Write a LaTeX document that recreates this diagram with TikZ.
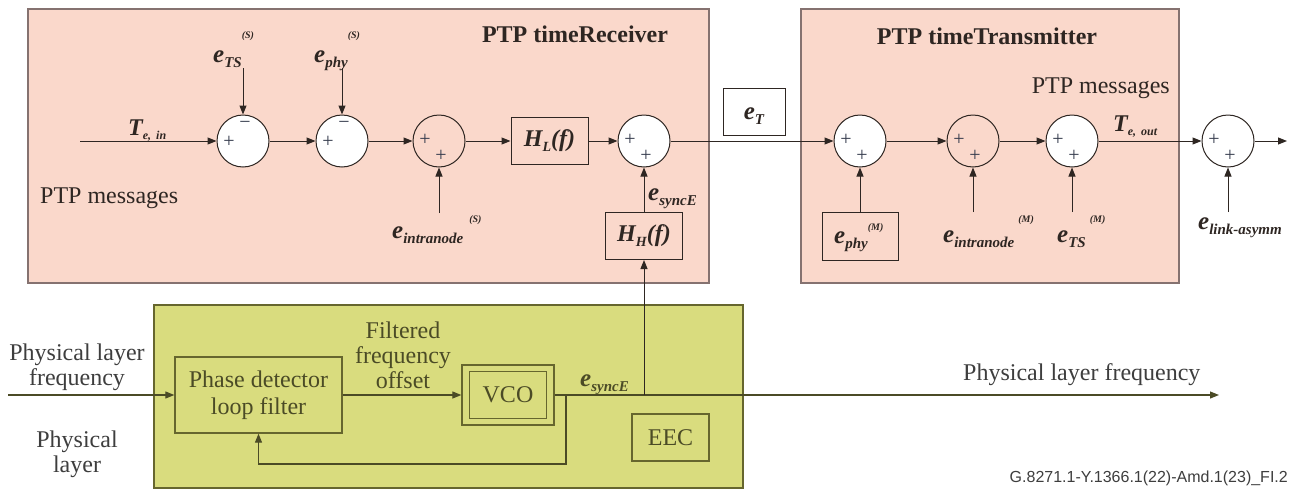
\documentclass[tikz,border=0pt]{standalone}
\usepackage{fontspec}
\setmainfont{Liberation Serif}
\newfontfamily\capfont{Liberation Sans}
\usetikzlibrary{arrows.meta}
\definecolor{pinkfill}{HTML}{FAD8CB}
\definecolor{pinkedge}{HTML}{857270}
\definecolor{greenfill}{HTML}{D9DC7E}
\definecolor{greenedge}{HTML}{66662E}
\definecolor{ink}{HTML}{2E2622}
\definecolor{oline}{HTML}{4B4B26}
\definecolor{plusc}{HTML}{343A4C}
\definecolor{graytext}{HTML}{3E3E3E}
\newcommand\bsz{\fontsize{24}{27}\selectfont}
% e label: [raise]{main}{sub}{sup}
\newcommand\elab[4][20pt]{{\fontsize{25}{25}\selectfont\bfseries\itshape #2}\raisebox{-5pt}{\fontsize{15}{15}\selectfont\bfseries\itshape #3}\raisebox{#1}{\fontsize{10}{10}\selectfont\bfseries\itshape #4}}
\newcommand\hlab[2]{{\bfseries\itshape #1}\raisebox{-5pt}{\fontsize{14}{14}\selectfont\bfseries\itshape #2}{\bfseries\itshape (f)}}
\begin{document}
\begin{tikzpicture}[x=1pt,y=-1pt,
  redbox/.style={draw=pinkedge, fill=pinkfill, line width=1.6pt, inner sep=0, anchor=north west},
  greenbox/.style={draw=greenedge, fill=greenfill, line width=1.6pt, inner sep=0, anchor=north west},
  sumc/.style={circle, draw=ink, line width=1pt, minimum size=52pt, inner sep=0},
  blk/.style={draw=ink, line width=1pt, inner sep=0, minimum width=77pt, minimum height=47pt, font=\bsz, text=ink},
  gblk/.style={draw=greenedge, line width=1.3pt, inner sep=0, font=\bsz, text=oline},
  sgn/.style={inner sep=0, text=plusc, font=\fontsize{20}{20}\selectfont},
  conn/.style={draw=ink, line width=1pt},
  arr/.style={conn, -{Triangle[length=9pt,width=7pt]}},
  garr/.style={draw=oline, line width=1.1pt, -{Triangle[length=9pt,width=7pt]}},
  lbl/.style={inner sep=0, text=ink},
  txt/.style={inner sep=0, text=graytext, font=\bsz, align=center},
]
\useasboundingbox (0,0) rectangle (1298,490);
\fill[white] (0,0) rectangle (1298,490);

% enclosing boxes
\node[redbox, minimum width=681pt, minimum height=274pt] (rx) at (27,8) {};
\node[redbox, minimum width=378pt, minimum height=274pt] (tx) at (800,8) {};
\node[greenbox, minimum width=589pt, minimum height=183pt] (eec) at (153,304) {};

% titles
\node[lbl, font=\bsz\bfseries] (trx) at (575,34) {PTP timeReceiver};
\node[lbl, font=\bsz\bfseries] (ttx) at (987,36) {PTP timeTransmitter};
\node[lbl, font=\bsz, anchor=west] (pmi) at (40,198) {PTP messages};
\node[lbl, font=\bsz, anchor=east] (pmo) at (1170,88) {PTP messages};

% summing circles
\node[sumc, fill=white] (c1) at (243,141) {};
\node[sumc, fill=white] (c2) at (342,141) {};
\node[sumc] (c3) at (439,141) {};
\node[sumc, fill=white] (c4) at (644,141) {};
\node[sumc, fill=white] (c5) at (860,141) {};
\node[sumc] (c6) at (973,141) {};
\node[sumc, fill=white] (c7) at (1072,141) {};
\node[sumc, fill=white] (c8) at (1228,141) {};

% signs
\foreach \c in {c1,c2}{
  \node[sgn] at ([shift={(-14,1)}]\c.center) {+};
  \node[sgn] at ([shift={(2,-16)}]\c.center) {\char"2212};
}
\foreach \c in {c3,c4,c5,c6,c7,c8}{
  \node[sgn] at ([shift={(-14,-1)}]\c.center) {+};
  \node[sgn] at ([shift={(2,15)}]\c.center) {+};
}

% blocks
\node[blk] (hl) at (549.5,141) {\hlab{H}{L}};
\node[blk] (hh) at (644,236) {\hlab{H}{H}};
\node[blk, fill=white, minimum width=62pt] (et) at (754,111.5) {\elab{e}{T}{}};
\node[blk, minimum width=76pt, minimum height=48pt] (ephy) at (860,236) {};
\node[lbl, anchor=base west] (ephyl) at (834,243) {\elab[13pt]{e}{phy}{(M)}};

% input / output coordinates
\coordinate (tin) at (80,141);
\coordinate (tout) at (1287,141);
\coordinate (ets) at (243,68);
\coordinate (eph) at (342,68);
\coordinate (ein) at (439,213);
\coordinate (einm) at (973,212);
\coordinate (etsm) at (1072,212);
\coordinate (elk) at (1228,212);

% top chain
\draw[arr] (tin) -- (c1);
\draw[arr] (c1) -- (c2);
\draw[arr] (c2) -- (c3);
\draw[arr] (c3) -- (hl);
\draw[arr] (hl) -- (c4);
\draw[arr] (c4) -- (c5);
\draw[arr] (c5) -- (c6);
\draw[arr] (c6) -- (c7);
\draw[arr] (c7) -- (c8);
\draw[arr] (c8) -- (tout);

% vertical inputs
\draw[arr] (ets) -- (c1);
\draw[arr] (eph) -- (c2);
\draw[arr] (ein) -- (c3);
\draw[arr] (hh) -- (c4);
\draw[arr] (ephy) -- (c5);
\draw[arr] (einm) -- (c6);
\draw[arr] (etsm) -- (c7);
\draw[arr] (elk) -- (c8);

% labels top
\node[lbl, anchor=base west] (tinl) at (128,135) {{\fontsize{24}{24}\selectfont\bfseries\itshape T}\raisebox{-4pt}{\fontsize{12}{12}\selectfont\bfseries\itshape e, \,in}};
\node[lbl, anchor=base west] (toutl) at (1113,131) {{\fontsize{24}{24}\selectfont\bfseries\itshape T}\raisebox{-4pt}{\fontsize{12}{12}\selectfont\bfseries\itshape e, \,out}};
\node[lbl, anchor=base west] (etsl) at (213,62) {\elab[24pt]{e}{TS}{(S)}};
\node[lbl, anchor=base west] (ephl) at (314,62) {\elab[24pt]{e}{phy}{(S)}};
\node[lbl, anchor=base west] (einl) at (392,238) {\elab[16pt]{e}{intranode}{\hspace{6pt}(S)}};
\node[lbl, anchor=base west] (esyl) at (648,200) {\elab[0pt]{e}{syncE}{}};
\node[lbl, anchor=base west] (einml) at (943,242) {\elab[20pt]{e}{intranode}{\hspace{4pt}(M)}};
\node[lbl, anchor=base west] (etsml) at (1057,242) {\elab[20pt]{e}{TS}{\hspace{4pt}(M)}};
\node[lbl, anchor=base west] (elkl) at (1198,229) {\elab[0pt]{e}{link-asymm}{}};

% bottom: EEC part
\node[gblk, minimum width=167pt, minimum height=76pt, align=center] (pd) at (258.5,395) {Phase detector\\loop filter};
\node[gblk, minimum width=92pt, minimum height=60pt] (vcoo) at (508,395) {};
\node[gblk, minimum width=77pt, minimum height=47pt] (vco) at (508,395) {VCO};
\node[gblk, minimum width=77pt, minimum height=47pt] (eecb) at (670.5,437.5) {EEC};

\coordinate (pin) at (8,395);
\coordinate (pout) at (1219,395);
\coordinate (fbj) at (566,395);
\coordinate (fbd) at (566,464);
\coordinate (hj) at (644,395);

\draw[garr] (pin) -- (pd);
\draw[garr] (pd) -- (vcoo);
\draw[garr] (vcoo) -- (pout);
\draw[garr] (fbj) -- (fbd) -- (pd.south |- fbd) -- (pd.south);
\draw[arr] (hj) -- (hh);

\node[txt] (plf) at (77,367) {Physical layer\\[-2pt]frequency};
\node[txt] (pl) at (77,454) {Physical\\[-2pt]layer};
\node[txt, text=oline] (ffo) at (403,355) {Filtered\\[-2pt]frequency\\[-2pt]offset};
\node[lbl, text=oline, anchor=base west] (esyb) at (580,386) {\elab[0pt]{e}{syncE}{}};
\node[txt, anchor=west] (plfo) at (963,375) {Physical layer frequency};

\node[inner sep=0, anchor=east, text=graytext, font=\capfont\fontsize{16}{16}\selectfont] (cap) at (1288,478) {G.8271.1-Y.1366.1(22)-Amd.1(23)\_FI.2};
\end{tikzpicture}
\end{document}
